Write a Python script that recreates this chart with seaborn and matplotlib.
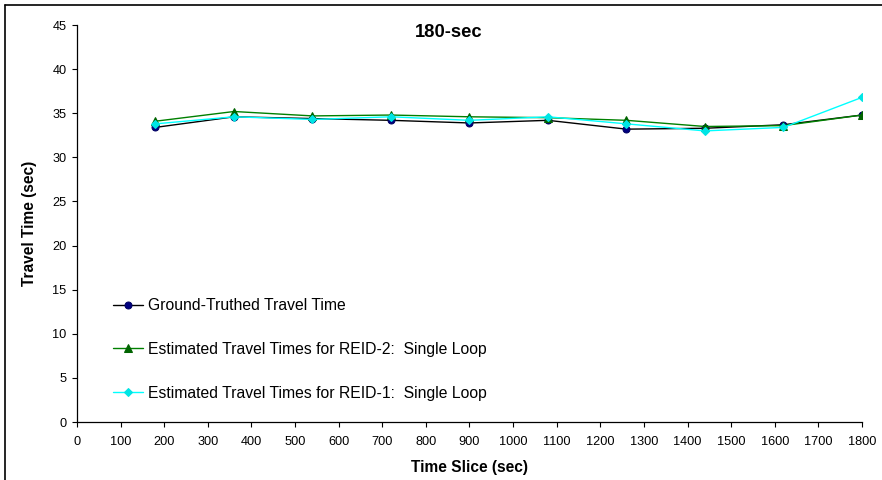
import matplotlib
matplotlib.use("Agg")
import matplotlib.pyplot as plt
import seaborn as sns
import pandas as pd
from matplotlib.lines import Line2D

time_slice = [180, 360, 540, 720, 900, 1080, 1260, 1440, 1620, 1800]
ground_truth = [33.4, 34.6, 34.4, 34.2, 33.9, 34.2, 33.2, 33.3, 33.7, 34.8]
reid2_single = [34.1, 35.2, 34.7, 34.8, 34.6, 34.5, 34.2, 33.5, 33.6, 34.8]
reid1_single = [33.8, 34.6, 34.3, 34.6, 34.2, 34.6, 33.8, 33.0, 33.4, 36.8]

series_names = [
    "Ground-Truthed Travel Time",
    "Estimated Travel Times for REID-2:  Single Loop",
    "Estimated Travel Times for REID-1:  Single Loop",
]
x_ticks = list(range(0, 1801, 100))
y_ticks = list(range(0, 46, 5))

sns.set_theme(style="white")
plt.rcParams["font.family"] = ["Liberation Sans", "DejaVu Sans"]
plt.rcParams["text.color"] = "black"
plt.rcParams["axes.labelcolor"] = "black"
plt.rcParams["xtick.color"] = "black"
plt.rcParams["ytick.color"] = "black"

fig = plt.figure(figsize=(8.82, 4.8), dpi=100)
ax = fig.add_axes([0.0873, 0.1208, 0.890, 0.827])

styles = [
    dict(color="black", marker="o", markerfacecolor="#000080", markeredgecolor="#000060"),
    dict(color="#008000", marker="^", markerfacecolor="#006400", markeredgecolor="#006400"),
    dict(color="#00FFFF", marker="D", markerfacecolor="#00E5E5", markeredgecolor="#00E5E5"),
]
sizes = [5, 6, 4.5]
for name, vals, st, ms in zip(series_names, [ground_truth, reid2_single, reid1_single], styles, sizes):
    df = pd.DataFrame({"t": time_slice, "v": vals})
    sns.lineplot(data=df, x="t", y="v", ax=ax, linewidth=1.0, markersize=ms,
                 label=name, **st)

ax.set_xlim(0, 1800)
ax.set_ylim(0, 45)
ax.set_xticks(x_ticks)
ax.set_yticks(y_ticks)
ax.tick_params(axis="both", labelsize=9.2, length=3.5, width=0.8, direction="out",
               color="black", labelcolor="black", bottom=True, left=True)
ax.tick_params(axis="x", pad=6.5)
ax.tick_params(axis="y", pad=4)
for s in ["top", "right"]:
    ax.spines[s].set_visible(False)
for s in ["left", "bottom"]:
    ax.spines[s].set_color("black")
    ax.spines[s].set_linewidth(0.9)
ax.set_xlabel("Time Slice (sec)", fontsize=11.2, fontweight="bold", labelpad=9, color="black")
ax.set_ylabel("Travel Time (sec)", fontsize=11.2, fontweight="bold", labelpad=11, color="black")
ax.grid(False)

fig.text(0.509, 0.933, "180-sec", fontsize=13.2, fontweight="bold", ha="center", va="center",
         color="black")

handles, labels = ax.get_legend_handles_labels()
leg = ax.legend(handles, labels, loc="upper left", bbox_to_anchor=(0.119, 0.395),
                bbox_transform=fig.transFigure, frameon=False, fontsize=11.3,
                labelspacing=1.83, handlelength=1.95, handletextpad=0.32, borderpad=0,
                labelcolor="black")

# figure frame (left and top edges)
fig.add_artist(Line2D([0.0057, 0.0057], [0, 0.99], transform=fig.transFigure, color="black", lw=1.2))
fig.add_artist(Line2D([0.0057, 1.0], [0.99, 0.99], transform=fig.transFigure, color="black", lw=1.2))

fig.savefig("out.png", dpi=100, facecolor="white")
